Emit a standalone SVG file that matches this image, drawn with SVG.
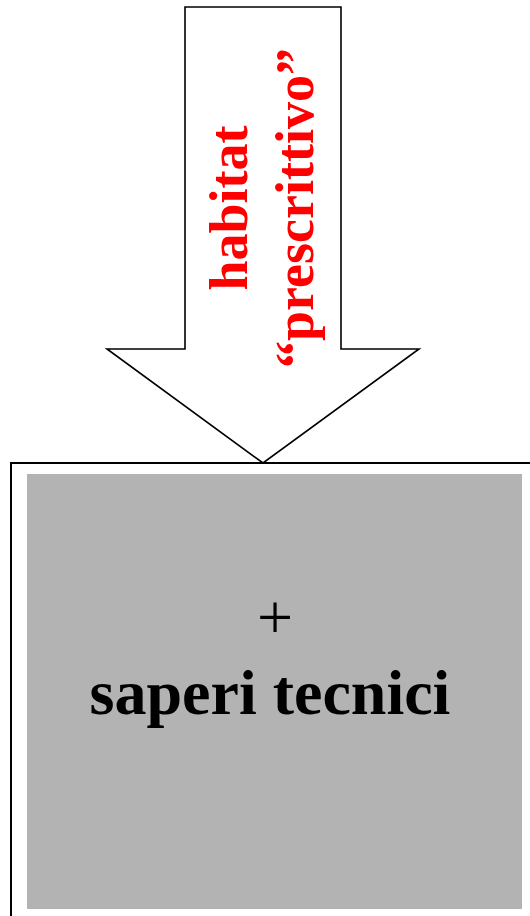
<svg xmlns="http://www.w3.org/2000/svg" width="530" height="916" viewBox="0 0 530 916">
<style>
.outline{fill:#fff;stroke:#000;stroke-width:1.6}
.red{fill:#ff0000;font-family:"Liberation Serif","Times New Roman",serif;font-weight:bold;font-size:54px}
.blk{fill:#000;font-family:"Liberation Serif","Times New Roman",serif}
</style>
<rect width="530" height="916" fill="#fff"/>
<g id="arrow">
<polygon class="outline" points="185,7 341,7 341,349 419,349 263,463 107,349 185,349"/>
<text class="red" text-anchor="middle" transform="translate(247,208) rotate(-90)"><tspan x="0" y="0">habitat</tspan><tspan x="0" y="66">“prescrittivo”</tspan></text>
</g>
<g id="box">
<rect x="11" y="463" width="540" height="470" fill="#fff" stroke="#000" stroke-width="2"/>
<rect x="27" y="474" width="495" height="435" fill="#b3b3b3"/>
<text class="blk" x="275" y="639" text-anchor="middle" font-size="64">+</text>
<text class="blk" x="270" y="714" text-anchor="middle" font-size="64" font-weight="bold">saperi tecnici</text>
</g>
<g id="connectors"/>
</svg>
